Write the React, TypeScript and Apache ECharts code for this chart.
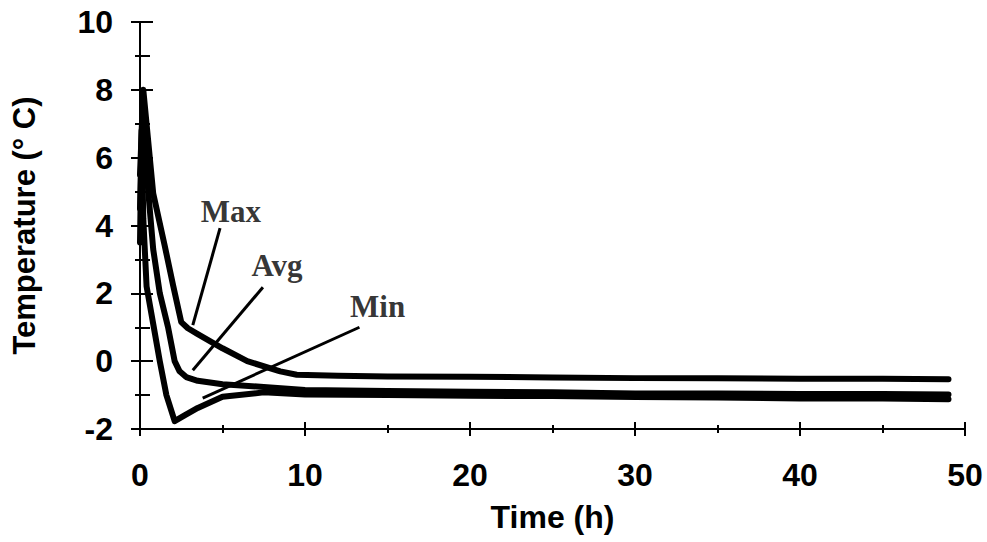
import React, { useEffect, useRef } from "react";
import * as echarts from "echarts";

// Temperature (°C) against time (h): [time, temperature]
const maxCurve: [number, number][] = [
  [0, 5.5], [0.2, 8.0], [0.8, 4.95], [1.5, 3.4], [2.0, 2.25], [2.5, 1.15], [2.9, 0.97],
  [3.5, 0.8], [5.0, 0.38], [6.5, 0.0], [8.5, -0.3], [9.5, -0.4], [12, -0.43], [15, -0.45],
  [20, -0.46], [25, -0.48], [30, -0.5], [35, -0.5], [40, -0.52], [45, -0.52], [49, -0.53],
];
const avgCurve: [number, number][] = [
  [0, 4.5], [0.15, 7.6], [0.5, 5.0], [0.8, 3.3], [1.2, 2.0], [1.7, 1.0], [2.1, 0.0],
  [2.4, -0.3], [2.8, -0.47], [3.5, -0.58], [5, -0.68], [7.5, -0.76], [10, -0.85], [15, -0.88],
  [20, -0.9], [25, -0.92], [30, -0.95], [35, -0.95], [40, -0.97], [45, -0.97], [49, -0.98],
];
const minCurve: [number, number][] = [
  [0, 3.5], [0.1, 6.8], [0.2, 4.2], [0.4, 2.2], [0.8, 1.1], [1.2, 0.0], [1.6, -1.0],
  [2.1, -1.77], [2.7, -1.6], [3.5, -1.38], [5, -1.05], [7.5, -0.92], [10, -0.98], [15, -1.0],
  [20, -1.02], [25, -1.03], [30, -1.06], [35, -1.07], [40, -1.1], [45, -1.1], [49, -1.12],
];

// Curve names and where they are written, with their leader lines
const curveNames = ["Max", "Avg", "Min"];
const namePositions: [number, number][] = [[5.5, 4.4], [8.3, 2.83], [14.4, 1.6]];
const leaderLines: [number, number][][] = [
  [[4.85, 3.92], [3.2, 1.06]],
  [[7.45, 2.18], [3.2, -0.27]],
  [[13.3, 1.0], [3.8, -1.09]],
];

const X_MIN = 0, X_MAX = 50, X_STEP = 10;
const Y_MIN = -2, Y_MAX = 10, Y_STEP = 2;

const SANS = "'Liberation Sans', Arial, sans-serif";
const SERIF = "'Liberation Serif', 'Times New Roman', serif";

export default function App() {
  const ref = useRef<HTMLDivElement>(null);

  useEffect(() => {
    if (!ref.current) return;
    const chart = echarts.init(ref.current, undefined, { renderer: "svg" });

    const axisLine = { show: true, onZero: false, lineStyle: { color: "#000", width: 2 } };
    const baseX = {
      type: "value" as const,
      min: X_MIN, max: X_MAX, interval: X_STEP,
      splitLine: { show: false },
      axisLine,
      position: "bottom" as const,
    };
    const baseY = {
      type: "value" as const,
      min: Y_MIN, max: Y_MAX, interval: Y_STEP,
      splitLine: { show: false },
      axisLine,
      position: "left" as const,
    };

    const curveSeries = [maxCurve, avgCurve, minCurve].map((d, i) => ({
      type: "line" as const,
      name: curveNames[i],
      data: d,
      showSymbol: false,
      symbol: "none",
      smooth: false,
      silent: true,
      z: 3,
      lineStyle: { color: "#000", width: 6, cap: "round", join: "round" },
    }));

    const leaderSeries = leaderLines.map((d) => ({
      type: "line" as const,
      data: d,
      showSymbol: false,
      symbol: "none",
      silent: true,
      z: 4,
      lineStyle: { color: "#000", width: 3 },
    }));

    const nameSeries = {
      type: "scatter" as const,
      symbolSize: 0,
      silent: true,
      z: 5,
      itemStyle: { color: "#000" },
      data: namePositions.map((p, i) => ({ value: p, name: curveNames[i] })),
      label: {
        show: true,
        position: "inside",
        formatter: (p: any) => p.name,
        color: "#000",
        textBorderWidth: 0,
        fontFamily: SERIF,
        fontWeight: "bold",
        fontSize: 31,
      },
    };

    chart.setOption({
      animation: false,
      backgroundColor: "#fff",
      grid: { left: 140, right: 22, top: 22, bottom: 113, containLabel: false },
      xAxis: [
        {
          ...baseX,
          name: "Time (h)",
          nameLocation: "middle",
          nameGap: 72,
          nameTextStyle: { color: "#000", fontFamily: SANS, fontWeight: "bold", fontSize: 32 },
          axisTick: { show: true, inside: false, length: 7, lineStyle: { color: "#000", width: 2 } },
          minorTick: { show: true, splitNumber: 2, length: 4, lineStyle: { color: "#000", width: 2 } },
          axisLabel: { color: "#000", fontFamily: SANS, fontWeight: "bold", fontSize: 32, margin: 30 },
        },
        {
          ...baseX,
          axisTick: { show: true, inside: true, length: 7, lineStyle: { color: "#000", width: 2 } },
          minorTick: { show: true, splitNumber: 2, length: 4, lineStyle: { color: "#000", width: 2 } },
          axisLabel: { show: false },
        },
      ],
      yAxis: [
        {
          ...baseY,
          name: "Temperature (° C)",
          nameLocation: "middle",
          nameGap: 100,
          nameTextStyle: { color: "#000", fontFamily: SANS, fontWeight: "bold", fontSize: 31 },
          axisTick: { show: true, inside: false, length: 9, lineStyle: { color: "#000", width: 2 } },
          minorTick: { show: true, splitNumber: 2, length: 5, lineStyle: { color: "#000", width: 2 } },
          axisLabel: { color: "#000", fontFamily: SANS, fontWeight: "bold", fontSize: 32, margin: 27 },
        },
        {
          ...baseY,
          axisTick: { show: true, inside: true, length: 13, lineStyle: { color: "#000", width: 2 } },
          minorTick: { show: true, splitNumber: 2, length: 10, lineStyle: { color: "#000", width: 2 } },
          axisLabel: { show: false },
        },
      ],
      series: [...curveSeries, ...leaderSeries, nameSeries],
    });

    return () => chart.dispose();
  }, []);

  return (
    <div
      ref={ref}
      style={{ position: "fixed", left: 0, top: 0, width: 987, height: 542, background: "#fff" }}
    />
  );
}
